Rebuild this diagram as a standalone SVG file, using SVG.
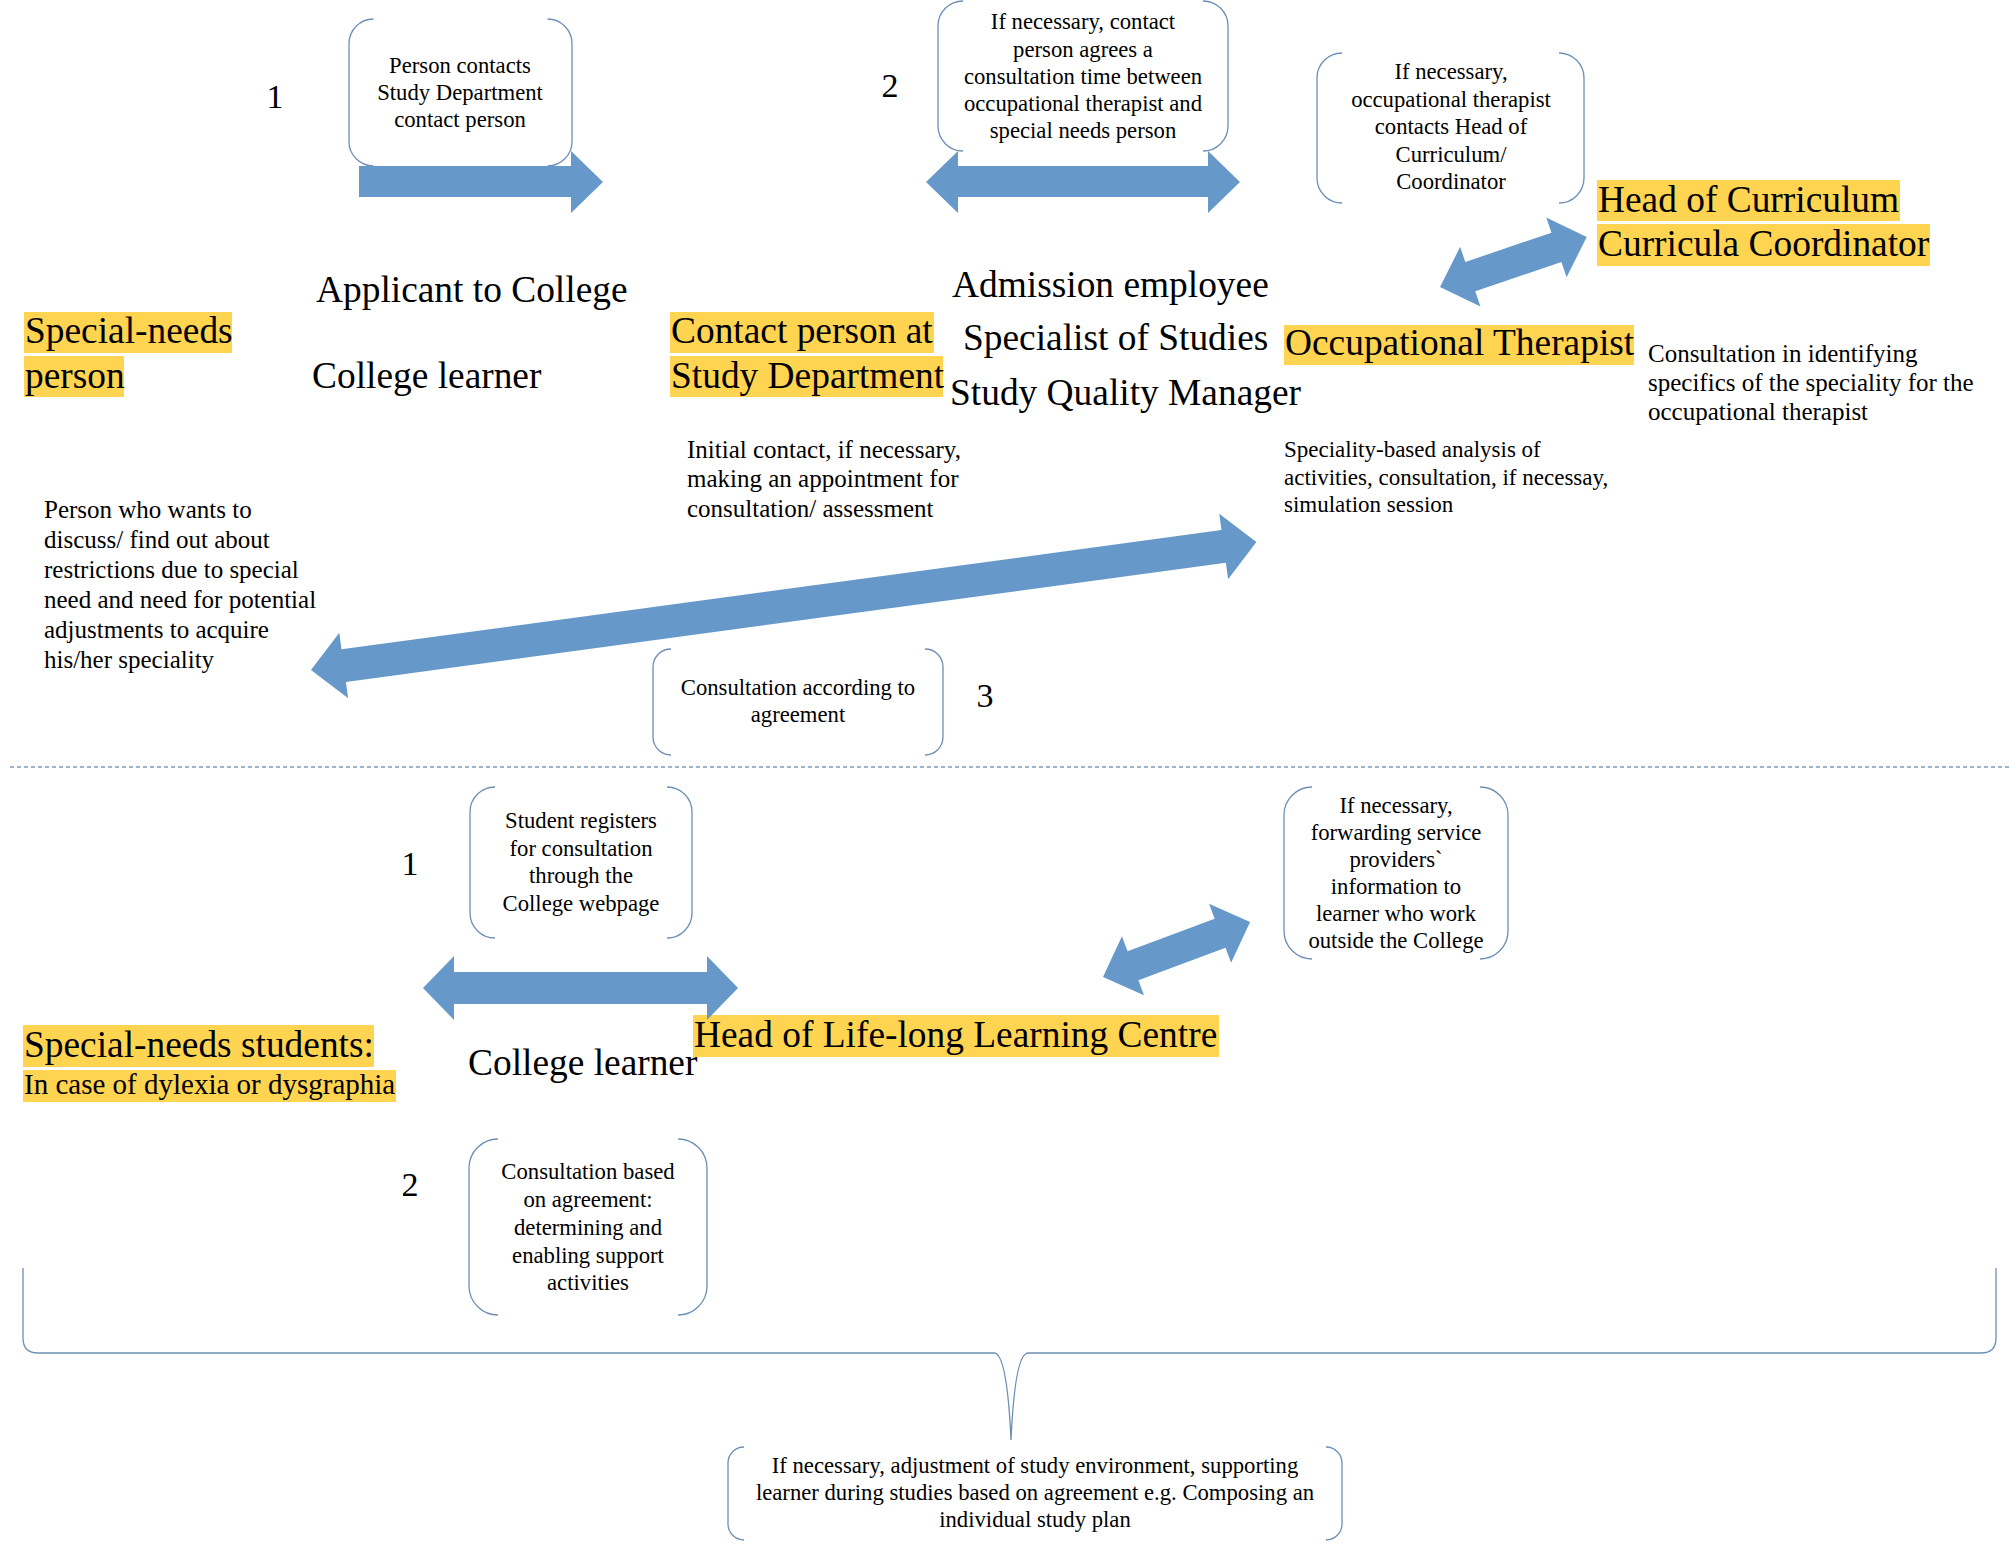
<svg xmlns="http://www.w3.org/2000/svg" width="2009" height="1548" viewBox="0 0 2009 1548">
<style>
.big{font-family:"Liberation Serif","Times New Roman",serif;font-size:37.4px;fill:#000}
.num{font-family:"Liberation Serif","Times New Roman",serif;font-size:34px;fill:#000;text-anchor:middle}
.box{font-family:"Liberation Serif","Times New Roman",serif;font-size:22.7px;fill:#000;text-anchor:middle}
.desc{font-family:"Liberation Serif","Times New Roman",serif;font-size:25px;fill:#000}
.hl{fill:#FFD450}
.br{fill:none;stroke:#6E8FB5;stroke-width:1.3}
.arr{fill:#6699C9}
</style>
<rect width="2009" height="1548" fill="#fff"/>

<g id="divider"><line x1="10" y1="767" x2="2009" y2="767" stroke="#7F9CBF" stroke-width="1.3" stroke-dasharray="4 3"/></g>

<g id="highlights">
<rect class="hl" x="24" y="312" width="208" height="41"/>
<rect class="hl" x="24" y="356" width="100" height="41"/>
<rect class="hl" x="670" y="312" width="264" height="41"/>
<rect class="hl" x="670" y="356" width="273" height="41"/>
<rect class="hl" x="1284" y="325" width="350" height="40"/>
<rect class="hl" x="1597" y="180" width="303" height="41"/>
<rect class="hl" x="1597" y="224" width="333" height="42"/>
<rect class="hl" x="23" y="1025" width="351" height="42"/>
<rect class="hl" x="23" y="1070" width="373" height="32"/>
<rect class="hl" x="693" y="1015" width="526" height="42"/>
</g>

<g id="box1"><path class="br" d="M373.5,19 A24.5,24.5 0 0 0 349,43.5 V141.5 A24.5,24.5 0 0 0 373.5,166 M547.5,19 A24.5,24.5 0 0 1 572,43.5 V141.5 A24.5,24.5 0 0 1 547.5,166"/>
<text class="box" x="460" y="73">Person contacts</text><text class="box" x="460" y="100">Study Department</text><text class="box" x="460" y="127">contact person</text></g>

<g id="box2"><path class="br" d="M963,1 A25,25 0 0 0 938,26 V126 A25,25 0 0 0 963,151 M1203,1 A25,25 0 0 1 1228,26 V126 A25,25 0 0 1 1203,151"/>
<text class="box" x="1083" y="29">If necessary, contact</text><text class="box" x="1083" y="57">person agrees a</text><text class="box" x="1083" y="84">consultation time between</text><text class="box" x="1083" y="111">occupational therapist and</text><text class="box" x="1083" y="138">special needs person</text></g>

<g id="box3"><path class="br" d="M1342,53 A25,25 0 0 0 1317,78 V178 A25,25 0 0 0 1342,203 M1559,53 A25,25 0 0 1 1584,78 V178 A25,25 0 0 1 1559,203"/>
<text class="box" x="1451" y="79">If necessary,</text><text class="box" x="1451" y="107">occupational therapist</text><text class="box" x="1451" y="134">contacts Head of</text><text class="box" x="1451" y="162">Curriculum/</text><text class="box" x="1451" y="189">Coordinator</text></g>

<g id="box4"><path class="br" d="M671,649 A18,18 0 0 0 653,667 V737 A18,18 0 0 0 671,755 M925,649 A18,18 0 0 1 943,667 V737 A18,18 0 0 1 925,755"/>
<text class="box" x="798" y="695">Consultation according to</text><text class="box" x="798" y="722">agreement</text></g>

<g id="box5"><path class="br" d="M495,787 A25,25 0 0 0 470,812 V913 A25,25 0 0 0 495,938 M667,787 A25,25 0 0 1 692,812 V913 A25,25 0 0 1 667,938"/>
<text class="box" x="581" y="828">Student registers</text><text class="box" x="581" y="856">for consultation</text><text class="box" x="581" y="883">through the</text><text class="box" x="581" y="911">College webpage</text></g>

<g id="box6"><path class="br" d="M498,1139 A29,29 0 0 0 469,1168 V1286 A29,29 0 0 0 498,1315 M678,1139 A29,29 0 0 1 707,1168 V1286 A29,29 0 0 1 678,1315"/>
<text class="box" x="588" y="1179">Consultation based</text><text class="box" x="588" y="1207">on agreement:</text><text class="box" x="588" y="1235">determining and</text><text class="box" x="588" y="1263">enabling support</text><text class="box" x="588" y="1290">activities</text></g>

<g id="box7"><path class="br" d="M1312,787 A28,28 0 0 0 1284,815 V931 A28,28 0 0 0 1312,959 M1480,787 A28,28 0 0 1 1508,815 V931 A28,28 0 0 1 1480,959"/>
<text class="box" x="1396" y="813">If necessary,</text><text class="box" x="1396" y="840">forwarding service</text><text class="box" x="1396" y="867">providers`</text><text class="box" x="1396" y="894">information to</text><text class="box" x="1396" y="921">learner who work</text><text class="box" x="1396" y="948">outside the College</text></g>

<g id="box8"><path class="br" d="M744,1447 A16,16 0 0 0 728,1463 V1524 A16,16 0 0 0 744,1540 M1326,1447 A16,16 0 0 1 1342,1463 V1524 A16,16 0 0 1 1326,1540"/>
<text class="box" x="1035" y="1473">If necessary, adjustment of study environment, supporting</text><text class="box" x="1035" y="1500">learner during studies based on agreement e.g. Composing an</text><text class="box" x="1035" y="1527">individual study plan</text></g>

<g id="brace"><path class="br" d="M23,1268 V1338 Q23,1353 38,1353 H994 Q1007,1353 1011,1440 Q1015,1353 1028,1353 H1981 Q1996,1353 1996,1338 V1268"/></g>

<g id="labels">
<text class="num" x="275" y="108">1</text>
<text class="num" x="890" y="97">2</text>
<text class="num" x="985" y="707">3</text>
<text class="num" x="410" y="875">1</text>
<text class="num" x="410" y="1196">2</text>
<text class="big" x="25" y="343">Special-needs</text>
<text class="big" x="25" y="388">person</text>
<text class="big" x="316" y="302">Applicant to College</text>
<text class="big" x="312" y="388">College learner</text>
<text class="big" x="671" y="343">Contact person at</text>
<text class="big" x="671" y="388">Study Department</text>
<text class="big" x="952" y="297">Admission employee</text>
<text class="big" x="963" y="350">Specialist of Studies</text>
<text class="big" x="950" y="405">Study Quality Manager</text>
<text class="big" x="1285" y="355">Occupational Therapist</text>
<text class="big" x="1598" y="212">Head of Curriculum</text>
<text class="big" x="1598" y="256">Curricula Coordinator</text>
<text class="desc" x="1648" y="362">Consultation in identifying</text>
<text class="desc" x="1648" y="391">specifics of the speciality for the</text>
<text class="desc" x="1648" y="420">occupational therapist</text>
<text class="desc" x="687" y="458">Initial contact, if necessary,</text>
<text class="desc" x="687" y="487">making an appointment for</text>
<text class="desc" x="687" y="517">consultation/ assessment</text>
<text class="desc" x="1284" y="457" style="font-size:23px">Speciality-based analysis of</text>
<text class="desc" x="1284" y="485" style="font-size:23px">activities, consultation, if necessay,</text>
<text class="desc" x="1284" y="512" style="font-size:23px">simulation session</text>
<text class="desc" x="44" y="518">Person who wants to</text>
<text class="desc" x="44" y="548">discuss/ find out about</text>
<text class="desc" x="44" y="578">restrictions due to special</text>
<text class="desc" x="44" y="608">need and need for potential</text>
<text class="desc" x="44" y="638">adjustments to acquire</text>
<text class="desc" x="44" y="668">his/her speciality</text>
<text class="big" x="24" y="1057">Special-needs students:</text>
<text class="big" x="24" y="1094" style="font-size:29px">In case of dylexia or dysgraphia</text>
<text class="big" x="468" y="1075">College learner</text>
<text class="big" x="694" y="1047">Head of Life-long Learning Centre</text>
</g>

<g id="connectors">
<polygon class="arr" points="359,166 571,166 571,151 603,182 571,213 571,197 359,197"/>
<polygon class="arr" points="926,182 958,151 958,166 1208,166 1208,151 1240,182 1208,213 1208,197 958,197 958,213"/>
<polygon class="arr" points="423,988 454,956 454,972 707,972 707,956 738,988 707,1020 707,1004 454,1004 454,1020"/>
<polygon class="arr" transform="translate(1440,287) rotate(-18.8)" points="0,0 32,-31.5 32,-15.5 123,-15.5 123,-31.5 155,0 123,31.5 123,15.5 32,15.5 32,31.5"/>
<polygon class="arr" transform="translate(1103,977) rotate(-20.5)" points="0,0 32,-31.5 32,-15.5 125,-15.5 125,-31.5 157,0 125,31.5 125,15.5 32,15.5 32,31.5"/>
<polygon class="arr" transform="translate(311,670) rotate(-7.71)" points="0,0 33,-33 33,-16.5 921,-16.5 921,-33 954,0 921,33 921,16.5 33,16.5 33,33"/>
</g>
</svg>
